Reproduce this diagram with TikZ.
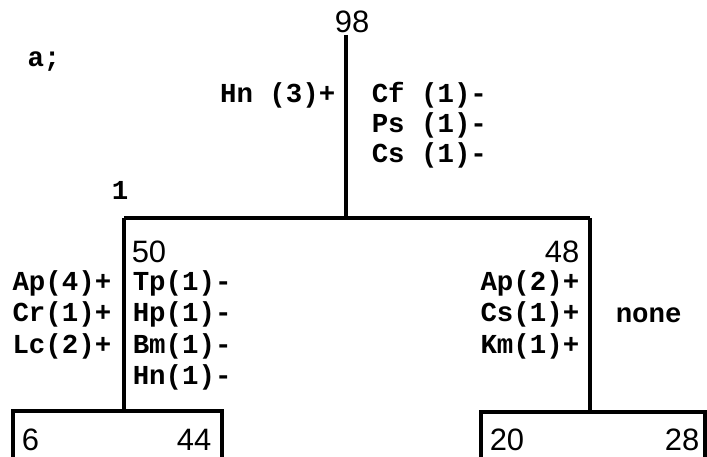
\documentclass[tikz,border=0pt]{standalone}
\usepackage{fontspec}
\setmonofont{Liberation Mono}
\newfontfamily\numfont{Liberation Sans}
\usetikzlibrary{positioning}

\begin{document}
\begin{tikzpicture}[x=0.025cm, y=-0.025cm, line width=2.5pt,
  lbl/.style={font=\fontsize{19.5}{19.5}\selectfont\ttfamily\bfseries, inner sep=0pt},
  num/.style={font=\fontsize{22}{22}\selectfont\numfont, inner sep=0pt}]

\useasboundingbox (0,0) rectangle (707,457);

% ===== ROOT =====
\node[lbl] (tag) at (44,62) {a;};
\node[num] (n98) at (352,22) {98};
\coordinate (root) at (346,35);
\coordinate (split) at (346,218);
\draw (root) -- (split);

\node[lbl, anchor=east] (hn3) at (337,95) {Hn (3)+};
\foreach \t [count=\i] in {Cf (1)-, Ps (1)-, Cs (1)-}
  \node[lbl, anchor=west] (rt\i) at (370,{65+30*\i}) {\t};

\node[lbl] (one) at (120,190) {1};

% ===== FIRST SPLIT =====
\coordinate (l1) at (124,218);
\coordinate (r1) at (590,218);
\coordinate (l2) at (124,411);
\coordinate (r2) at (590,412);
\draw (l1) -- (r1);
\draw (l1) -- (l2);
\draw (r1) -- (r2);

% left branch
\node[num, anchor=west] (n50) at (130,252) {50};
\foreach \t [count=\i] in {Tp(1)-, Hp(1)-, Bm(1)-, Hn(1)-}
  \node[lbl, anchor=west] (lr\i) at (131,{251.5+31.5*\i}) {\t};
\foreach \t [count=\i] in {Ap(4)+, Cr(1)+, Lc(2)+}
  \node[lbl, anchor=east] (ll\i) at (113,{251.5+31.5*\i}) {\t};

% right branch
\node[num, anchor=east] (n48) at (581,252) {48};
\foreach \t [count=\i] in {Ap(2)+, Cs(1)+, Km(1)+}
  \node[lbl, anchor=east] (rl\i) at (581,{251.5+31.5*\i}) {\t};
\node[lbl, anchor=west] (none) at (614,315) {none};

% ===== SECOND SPLITS =====
\coordinate (bl1) at (13,411);
\coordinate (bl2) at (222,411);
\coordinate (bl1b) at (13,457);
\coordinate (bl2b) at (222,457);
\draw (bl1b) -- (bl1) -- (bl2) -- (bl2b);
\node[num, anchor=west] (n6) at (20,440) {6};
\node[num, anchor=east] (n44) at (213,440) {44};

\coordinate (br1) at (481,412);
\coordinate (br2) at (705,412);
\coordinate (br1b) at (481,457);
\coordinate (br2b) at (705,457);
\draw (br1b) -- (br1) -- (br2) -- (br2b);
\node[num, anchor=west] (n20) at (488,440) {20};
\node[num, anchor=east] (n28) at (701,440) {28};

\end{tikzpicture}
\end{document}
